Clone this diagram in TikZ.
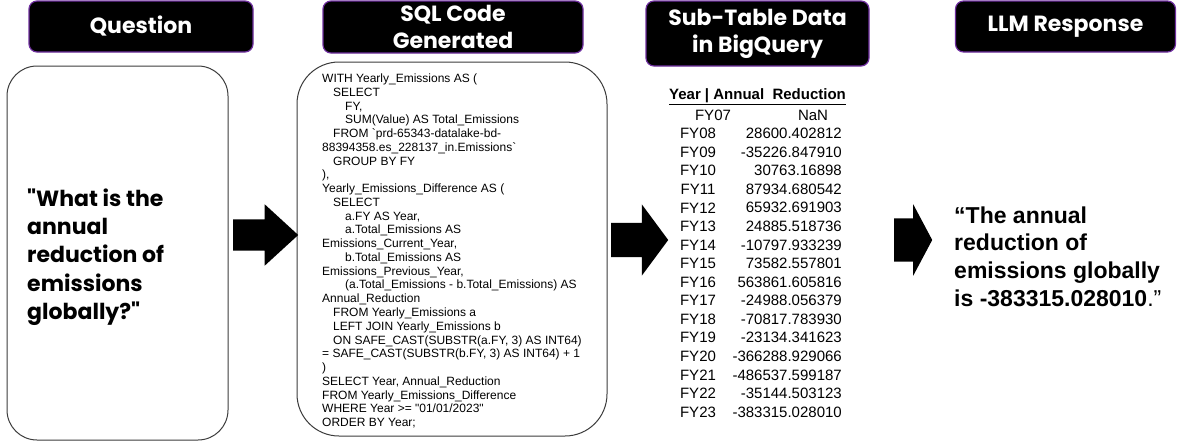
\documentclass[tikz,border=0pt]{standalone}
\usepackage{fontspec}
\setmainfont{Liberation Sans}
\newfontfamily\popfont{Poppins}
\newfontfamily\sqlfont{Liberation Sans}[Ligatures=TeXOff]
\usetikzlibrary{positioning,shapes.arrows}

\definecolor{headpurple}{HTML}{7030A0}
\definecolor{panelgray}{HTML}{3C3C3C}

\begin{document}
\begin{tikzpicture}[x=1pt,y=-1pt,
	head/.style={draw=headpurple,line width=1.2pt,fill=black,rounded corners=8pt,text=white,align=center,inner sep=0pt,font=\popfont\bfseries\fontsize{22}{27}\selectfont},
	panel/.style={draw=panelgray,line width=1pt,rounded corners=#1,fill=white,inner sep=0pt},
	blockarrow/.style={single arrow,fill=black,inner sep=0pt,anchor=tail,single arrow head indent=0pt},
	cell/.style={inner sep=0pt,font=\fontsize{15}{18}\selectfont}]

\useasboundingbox (0,0) rectangle (1177,447);

\node[head,minimum width=224pt,minimum height=51pt](hq) at (141,26.5) {Question};
\node[head,minimum width=260pt,minimum height=52pt](hsql) at (453,27) {SQL Code\\Generated};
\node[head,minimum width=223pt,minimum height=65pt](htab) at (757.5,33.5) {Sub-Table Data\\in BigQuery};
\node[head,minimum width=220pt,minimum height=51pt](hllm) at (1065.5,26.5) {LLM Response};

\node[panel=30pt,minimum width=221pt,minimum height=374pt](qbox) at (117.5,253) {};
\node[panel=42pt,minimum width=310pt,minimum height=374pt](sqlbox) at (452,249) {};

\node[anchor=west,align=left,inner sep=0pt,font=\popfont\bfseries\fontsize{22}{28.3}\selectfont](qtext) at (27,257)
{"What is the\\annual\\reduction of\\emissions\\globally?"};

\node[anchor=west,align=left,inner sep=0pt,font=\sqlfont\fontsize{12}{13.76}\selectfont](sql) at (322,251)
{WITH Yearly\_Emissions AS (\\
\hspace*{11pt}SELECT\\
\hspace*{23pt}FY,\\
\hspace*{23pt}SUM(Value) AS Total\_Emissions\\
\hspace*{11pt}FROM `prd-65343-datalake-bd-\\
88394358.es\_228137\_in.Emissions`\\
\hspace*{11pt}GROUP BY FY\\
),\\
Yearly\_Emissions\_Difference AS (\\
\hspace*{11pt}SELECT\\
\hspace*{23pt}a.FY AS Year,\\
\hspace*{23pt}a.Total\_Emissions AS\\
Emissions\_Current\_Year,\\
\hspace*{23pt}b.Total\_Emissions AS\\
Emissions\_Previous\_Year,\\
\hspace*{23pt}(a.Total\_Emissions - b.Total\_Emissions) AS\\
Annual\_Reduction\\
\hspace*{11pt}FROM Yearly\_Emissions a\\
\hspace*{11pt}LEFT JOIN Yearly\_Emissions b\\
\hspace*{11pt}ON SAFE\_CAST(SUBSTR(a.FY, 3) AS INT64)\\
= SAFE\_CAST(SUBSTR(b.FY, 3) AS INT64) + 1\\
)\\
SELECT Year, Annual\_Reduction\\
FROM Yearly\_Emissions\_Difference\\
WHERE Year >= "01/01/2023"\\
ORDER BY Year;};

\node[cell,font=\bfseries\fontsize{15}{18}\selectfont](thead) at (757.5,97) {\underline{Year | Annual\ \ Reduction}};
\node[cell](y0) at (713,115) {FY07};
\node[cell](v0) at (813,115) {NaN};
\foreach \yr/\val [count=\i] in {FY08/28600.402812,FY09/-35226.847910,FY10/30763.16898,FY11/87934.680542,FY12/65932.691903,FY13/24885.518736,FY14/-10797.933239,FY15/73582.557801,FY16/563861.605816,FY17/-24988.056379,FY18/-70817.783930,FY19/-23134.341623,FY20/-366288.929066,FY21/-486537.599187,FY22/-35144.503123,FY23/-383315.028010}{
	\node[cell](y\i) at (698,{115+18.56*\i}) {\yr};
	\node[cell,anchor=east](v\i) at (842,{115+18.56*\i}) {\val};
}

\node[anchor=west,align=left,inner sep=0pt,font=\bfseries\fontsize{23}{27.7}\selectfont](answer) at (954,256.5)
{“The annual\\reduction of\\emissions globally\\is -383315.028010{\mdseries.”}};

\node[blockarrow,minimum height=65pt,inner ysep=15.5pt,single arrow head extend=15pt,single arrow tip angle=85](a1) at (233,235) {};
\node[blockarrow,minimum height=57pt,inner ysep=17pt,single arrow head extend=18.5pt,single arrow tip angle=107](a2) at (611,240) {};
\node[blockarrow,minimum height=38pt,inner ysep=21.5pt,single arrow head extend=14pt,single arrow tip angle=124](a3) at (894,240) {};

\end{tikzpicture}
\end{document}
